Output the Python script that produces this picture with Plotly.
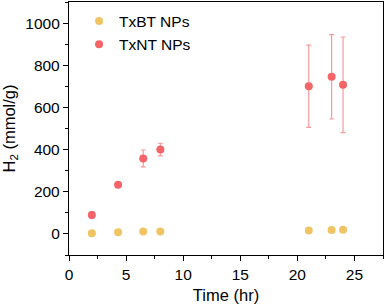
import plotly.graph_objects as go

time_bt = [2, 4.3, 6.5, 8, 21, 23, 24]
h2_bt = [3, 8, 12, 12, 16, 18, 20]
time_nt = [2, 4.3, 6.5, 8, 21, 23, 24]
h2_nt = [90, 233, 358, 400, 700, 745, 707]
err_nt = [15, 8, 40, 30, 195, 200, 227]

FONT = "Arial, Liberation Sans"
fig = go.Figure()
fig.add_trace(go.Scatter(x=time_bt, y=h2_bt, mode="markers", name="TxBT NPs",
                         marker=dict(color="#F0C463", size=8)))
fig.add_trace(go.Scatter(x=time_nt, y=h2_nt, mode="markers", name="TxNT NPs",
                         marker=dict(color="#F56468", size=8),
                         error_y=dict(type="data", array=err_nt, visible=True,
                                      color="#F79A9C", thickness=1.2, width=2.5)))

axis_common = dict(showline=True, linecolor="black", linewidth=1.3, mirror=True,
                   ticks="outside", ticklen=5, tickwidth=1.3, tickcolor="black",
                   showgrid=False, zeroline=False, automargin=False,
                   tickfont=dict(family=FONT, size=15.5, color="black"))
fig.update_xaxes(range=[0, 27.5], tickvals=[0, 5, 10, 15, 20, 25],
                 minor=dict(ticks="outside", ticklen=3, tickwidth=1.3, tickcolor="black", dtick=2.5, tick0=0),
                 title=dict(text="Time (hr)", font=dict(family=FONT, size=16.5, color="black"), standoff=7),
                 **axis_common)
fig.update_yaxes(range=[-100, 1100], tickvals=[0, 200, 400, 600, 800, 1000],
                 minor=dict(ticks="outside", ticklen=3, tickwidth=1.3, tickcolor="black", dtick=100, tick0=0),
                 title=dict(text="H<sub>2</sub> (mmol/g)", font=dict(family=FONT, size=16.5, color="black"), standoff=6),
                 **axis_common)
fig.update_layout(width=387, height=308, margin=dict(l=69, r=4, t=2, b=53),
                  plot_bgcolor="white", paper_bgcolor="white",
                  legend=dict(x=0.032, y=0.99, xanchor="left", yanchor="top",
                              bgcolor="rgba(0,0,0,0)",
                              font=dict(family=FONT, size=15.5, color="black"),
                              itemwidth=30, tracegroupgap=0))
fig.write_html("out.html", config={"displayModeBar": False},
               post_script="document.body.style.margin='0';document.body.style.overflow='hidden';")
